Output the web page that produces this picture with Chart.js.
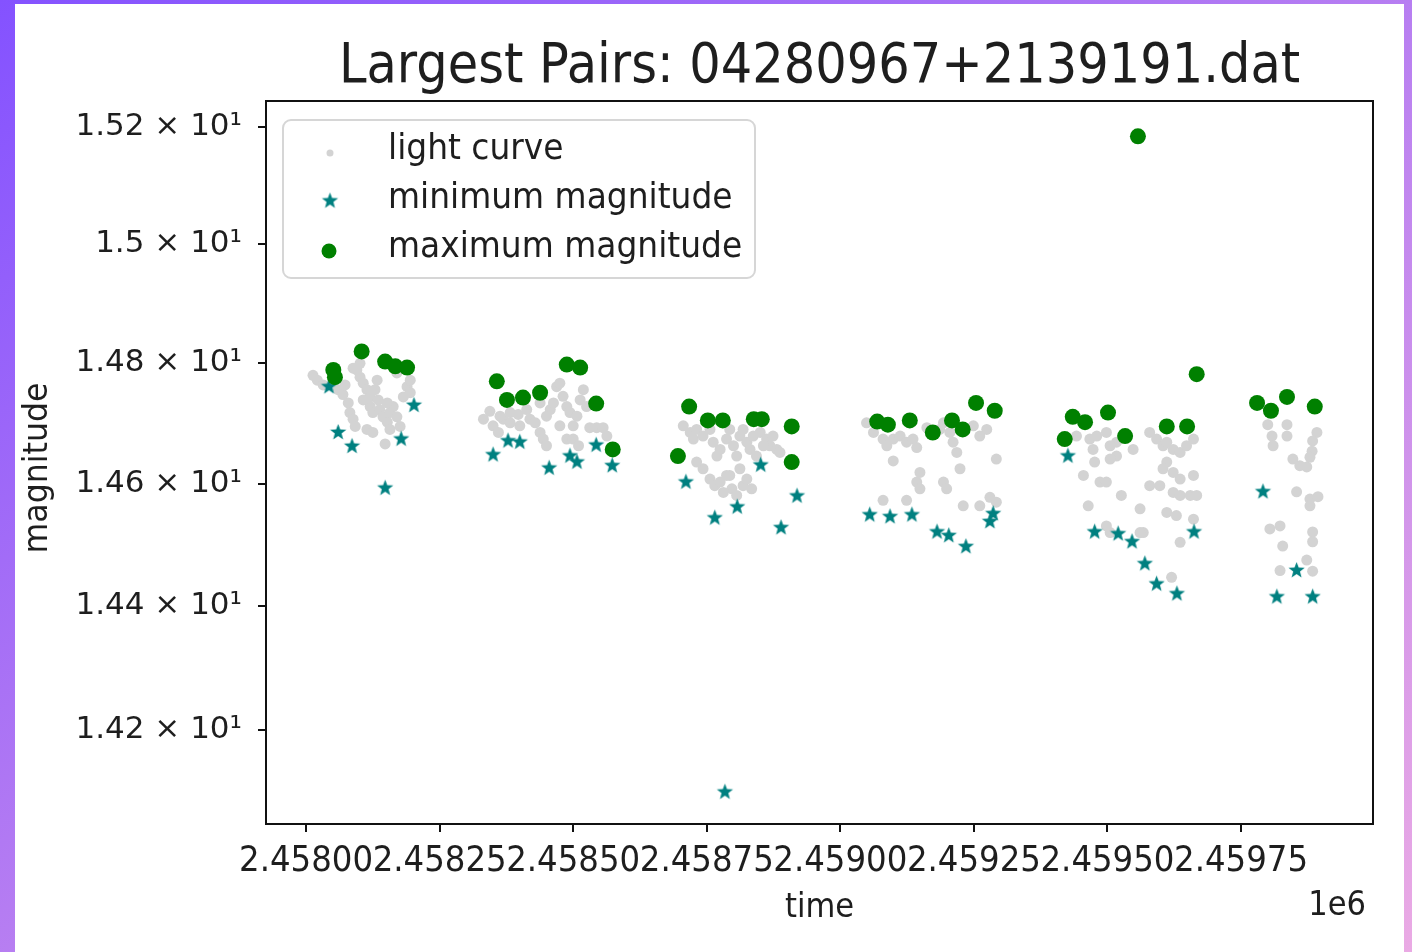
<!DOCTYPE html>
<html><head><meta charset="utf-8">
<script src="https://cdn.jsdelivr.net/npm/chart.js@4.4.1/dist/chart.umd.min.js"></script>
<style>
html,body{margin:0;padding:0;width:1412px;height:952px;overflow:hidden;background:linear-gradient(to bottom right,#8452ff,#eaaae4);}
#panel{position:absolute;left:15px;top:4px;width:1389px;height:948px;background:#fff;}
#c{position:absolute;left:0;top:0;}
</style></head><body><div id="panel"></div><canvas id="c" width="1412" height="952"></canvas>
<script>
// ---------- data ----------
const chartTitle = 'Largest Pairs: 04280967+2139191.dat';
const xTitle = 'time';
const yTitle = 'magnitude';
const xOffsetText = '1e6';
const seriesNames = ['light curve', 'minimum magnitude', 'maximum magnitude'];
const xTickValues = [2458000, 2458250, 2458500, 2458750, 2459000, 2459250, 2459500, 2459750];
const xTickLabels = ['2.45800', '2.45825', '2.45850', '2.45875', '2.45900', '2.45925', '2.45950', '2.45975'];
const yTickValues = [14.2, 14.4, 14.6, 14.8, 15.0, 15.2];
const yTickLabels = ['1.42 × 10¹', '1.44 × 10¹', '1.46 × 10¹', '1.48 × 10¹', '1.5 × 10¹', '1.52 × 10¹'];
const xRange = [2457925, 2459997];
const yRange = [14.0503, 15.2447];

const lcTime = [
2458013,2458021,2458060,2458069,2458079,2458082,2458088,2458092,2458095,2458101,2458107,2458114,2458120,2458120,2458125,2458129,2458135,2458138,2458144,2458152,2458157,2458163,2458170,2458176,2458182,2458189,2458195,2458114,2458125,2458148,2458157,2458101,2458088,2458170,2458133,2458152,2458107,2458032,2458073,2458195,
2458332,2458344,2458350,2458360,2458369,2458382,2458397,2458400,2458419,2458429,2458438,2458444,2458450,2458457,2458463,2458469,2458475,2458481,2458488,2458494,2458500,2458507,2458513,2458519,2458525,2458531,2458544,2458556,2458563,2458488,2458500,2458510,2458475,2458450,2458438,2458413,2458382,2458363,
2458706,2458719,2458731,2458725,2458743,2458756,2458762,2458769,2458775,2458787,2458793,2458800,2458806,2458812,2458818,2458825,2458831,2458837,2458850,2458862,2458868,2458881,2458887,2458756,2458765,2458775,2458787,2458797,2458806,2458818,2458825,2458834,2458781,2458793,2458743,2458731,2458843,2458856,2458874,2458812,
2459049,2459062,2459080,2459087,2459099,2459112,2459124,2459136,2459143,2459099,2459149,2459143,2459149,2459080,2459124,2459193,2459205,2459211,2459218,2459224,2459193,2459199,2459230,2459261,2459280,2459292,2459292,2459274,2459261,2459249,2459186,2459162,
2459442,2459467,2459480,2459498,2459517,2459473,2459505,2459548,2459517,2459476,2459505,2459455,2459486,2459498,2459526,2459464,2459561,2459567,2459498,2459579,2459592,2459604,2459611,2459623,2459636,2459648,2459661,2459611,2459604,2459623,2459636,2459661,2459579,2459598,2459623,2459636,2459655,2459667,2459611,2459629,2459636,2459661,2459620,2459505,2459561,
2459800,2459836,2459808,2459810,2459836,2459892,2459884,2459883,2459879,2459847,2459860,2459873,2459854,2459879,2459894,2459879,2459804,2459823,2459828,2459884,2459884,2459823,2459873,2459884
];
const lcMag = [
14.780,14.772,14.756,14.748,14.734,14.718,14.707,14.695,14.789,14.777,14.767,14.756,14.744,14.728,14.718,14.756,14.739,14.723,14.711,14.702,14.718,14.728,14.711,14.695,14.744,14.761,14.751,14.690,14.685,14.666,14.690,14.800,14.792,14.784,14.772,14.734,14.739,14.764,14.764,14.772,
14.707,14.720,14.696,14.685,14.707,14.718,14.715,14.696,14.707,14.701,14.685,14.674,14.663,14.723,14.734,14.761,14.767,14.745,14.728,14.718,14.696,14.712,14.739,14.756,14.728,14.693,14.693,14.693,14.679,14.674,14.674,14.663,14.696,14.712,14.734,14.723,14.701,14.712,
14.696,14.685,14.690,14.674,14.679,14.690,14.669,14.646,14.657,14.674,14.690,14.663,14.646,14.679,14.690,14.669,14.657,14.679,14.685,14.674,14.663,14.657,14.652,14.608,14.597,14.603,14.614,14.592,14.581,14.597,14.608,14.592,14.586,14.614,14.625,14.636,14.646,14.663,14.679,14.625,
14.701,14.685,14.674,14.663,14.674,14.679,14.669,14.674,14.660,14.638,14.619,14.603,14.592,14.573,14.573,14.701,14.685,14.669,14.652,14.625,14.603,14.592,14.564,14.564,14.578,14.570,14.641,14.690,14.679,14.696,14.690,14.693,
14.679,14.674,14.679,14.685,14.669,14.657,14.663,14.657,14.646,14.636,14.641,14.614,14.603,14.603,14.581,14.564,14.559,14.520,14.531,14.685,14.674,14.663,14.669,14.657,14.652,14.663,14.674,14.636,14.625,14.619,14.608,14.614,14.597,14.597,14.586,14.581,14.581,14.581,14.553,14.548,14.504,14.542,14.447,14.520,14.520,
14.698,14.698,14.679,14.663,14.679,14.685,14.671,14.654,14.644,14.641,14.630,14.628,14.587,14.575,14.579,14.564,14.526,14.531,14.498,14.521,14.505,14.458,14.475,14.457
];
const minTime = [2458043,2458202,2458060,2458086,2458178,2458148,2458350,2458378,2458400,2458455,2458494,2458507,2458543,2458573,2458711,2458851,2458807,2458765,2458919,2458889,2458784,2459055,2459093,2459134,2459181,2459203,2459235,2459280,2459286,2459426,2459476,2459520,2459546,2459570,2459592,2459630,2459662,2459791,2459854,2459817,2459884];
const minMag  = [14.761,14.730,14.685,14.662,14.674,14.593,14.648,14.671,14.669,14.626,14.646,14.636,14.664,14.630,14.603,14.631,14.562,14.544,14.580,14.528,14.101,14.549,14.546,14.549,14.521,14.515,14.497,14.538,14.551,14.646,14.521,14.518,14.505,14.469,14.436,14.420,14.521,14.587,14.458,14.415,14.415];
const maxTime = [2458104,2458051,2458054,2458148,2458167,2458189,2458357,2458376,2458406,2458438,2458488,2458513,2458543,2458574,2458717,2458752,2458780,2458838,2458853,2458909,2458696,2458909,2459069,2459089,2459130,2459173,2459209,2459229,2459254,2459289,2459667,2459435,2459458,2459501,2459533,2459611,2459649,2459420,2459557,2459780,2459806,2459836,2459888];
const maxMag  = [14.820,14.789,14.777,14.803,14.795,14.793,14.770,14.739,14.743,14.751,14.798,14.793,14.733,14.657,14.728,14.705,14.705,14.707,14.707,14.695,14.646,14.636,14.703,14.698,14.705,14.685,14.705,14.690,14.734,14.721,14.782,14.711,14.702,14.718,14.679,14.695,14.695,14.674,15.184,14.734,14.721,14.744,14.728];

// ---------- styling ----------
const FONT = "'DejaVu Sans', 'Liberation Sans', sans-serif";
const C_LC = '#d3d3d3', C_MIN = '#008080', C_MAX = '#008000', C_TXT = '#1e1e1e';

function makeStar(color, R) {
  const s = Math.ceil(R * 2 + 2);
  const cv = document.createElement('canvas');
  cv.width = s; cv.height = s;
  const g = cv.getContext('2d');
  const cx = s / 2, cy = s / 2, r = R * 0.42;
  g.beginPath();
  for (let i = 0; i < 10; i++) {
    const a = -Math.PI / 2 + i * Math.PI / 5;
    const rr = i % 2 === 0 ? R : r;
    g.lineTo(cx + rr * Math.cos(a), cy + rr * Math.sin(a));
  }
  g.closePath();
  g.fillStyle = color; g.fill();
  return cv;
}
const starImg = makeStar(C_MIN, 8.5);

const pts = (xs, ys) => xs.map((x, i) => ({x, y: ys[i]}));

// text with horizontal squeeze (the reference glyphs are narrow and tall)
function sText(ctx, txt, x, y, size, sx, align, rot) {
  ctx.save();
  ctx.translate(x, y);
  if (rot) ctx.rotate(rot);
  ctx.scale(sx, 1);
  ctx.font = `${size}px ${FONT}`;
  ctx.textAlign = align; ctx.textBaseline = 'middle';
  ctx.fillStyle = C_TXT;
  ctx.fillText(txt, 0, 0);
  ctx.restore();
}

const framePlugin = {
  id: 'frame',
  afterDatasetsDraw(chart) {
    const {ctx, chartArea: a} = chart;
    ctx.save();
    ctx.strokeStyle = '#111'; ctx.lineWidth = 2;
    ctx.strokeRect(a.left, a.top, a.right - a.left, a.bottom - a.top);
    ctx.restore();
  },
  afterDraw(chart) {
    const {ctx, chartArea: a} = chart;
    const xs = chart.scales.x;
    // title
    sText(ctx, chartTitle, (a.left + a.right) / 2, 68, 55, 0.9, 'center');
    // x tick labels (positions from the x scale)
    xTickValues.forEach((v, i) => sText(ctx, xTickLabels[i], xs.getPixelForValue(v), 862, 36, 0.9, 'center'));
    // axis titles
    sText(ctx, xTitle, (a.left + a.right) / 2, 908, 34, 0.9, 'center');
    sText(ctx, yTitle, 38, 468, 34, 0.93, 'center', -Math.PI / 2);
    // offset text
    sText(ctx, xOffsetText, a.right - 7, 906, 34, 0.9, 'right');
    // legend
    const lx = 283, ly = 120, lw = 472, lh = 158, rad = 8;
    ctx.save();
    ctx.beginPath();
    ctx.roundRect(lx, ly, lw, lh, rad);
    ctx.fillStyle = 'rgba(255,255,255,0.85)'; ctx.fill();
    ctx.strokeStyle = '#d6d6d6'; ctx.lineWidth = 2; ctx.stroke();
    ctx.fillStyle = C_LC; ctx.beginPath(); ctx.arc(330, 153, 3.5, 0, Math.PI * 2); ctx.fill();
    ctx.drawImage(starImg, 330 - starImg.width / 2, 201 - starImg.height / 2);
    ctx.fillStyle = C_MAX; ctx.beginPath(); ctx.arc(329, 251, 7.5, 0, Math.PI * 2); ctx.fill();
    ctx.restore();
    const rows = [150, 199, 248];
    seriesNames.forEach((n, i) => sText(ctx, n, 388, rows[i], 35, 0.94, 'left'));
  }
};

new Chart(document.getElementById('c'), {
  type: 'scatter',
  data: {
    datasets: [
      {label: seriesNames[0], data: pts(lcTime, lcMag), backgroundColor: C_LC, borderWidth: 0, pointRadius: 5.5, pointHoverRadius: 5.5, pointStyle: 'circle', order: 3},
      {label: seriesNames[1], data: pts(minTime, minMag), backgroundColor: C_MIN, borderWidth: 0, pointRadius: 8, pointHoverRadius: 8, pointStyle: starImg, order: 2},
      {label: seriesNames[2], data: pts(maxTime, maxMag), backgroundColor: C_MAX, borderWidth: 0, pointRadius: 8, pointHoverRadius: 8, pointStyle: 'circle', order: 1}
    ]
  },
  options: {
    responsive: false, animation: false, events: [],
    layout: {padding: {left: 0, top: 101, right: 39, bottom: 0}},
    plugins: {legend: {display: false}, tooltip: {enabled: false}, title: {display: false}},
    scales: {
      x: {
        type: 'linear', min: xRange[0], max: xRange[1],
        afterBuildTicks: s => { s.ticks = xTickValues.map(v => ({value: v})); },
        afterFit: s => { s.height = 128; },
        border: {display: false},
        grid: {drawOnChartArea: false, drawTicks: true, tickLength: 8, color: '#111', lineWidth: 2},
        ticks: {autoSkip: false, maxRotation: 0, minRotation: 0, padding: 10, color: 'rgba(0,0,0,0)', font: {family: FONT, size: 20},
          callback: (v, i) => xTickLabels[i]},
        title: {display: false}
      },
      y: {
        type: 'logarithmic', min: yRange[0], max: yRange[1],
        afterBuildTicks: s => { s.ticks = yTickValues.map(v => ({value: v})); },
        afterFit: s => { s.width = 266; },
        border: {display: false},
        grid: {drawOnChartArea: false, drawTicks: true, tickLength: 8, color: '#111', lineWidth: 2},
        ticks: {autoSkip: false, padding: 16, color: C_TXT, font: {family: FONT, size: 31},
          callback: (v, i) => yTickLabels[i]},
        title: {display: false}
      }
    }
  },
  plugins: [framePlugin]
});
</script></body></html>
